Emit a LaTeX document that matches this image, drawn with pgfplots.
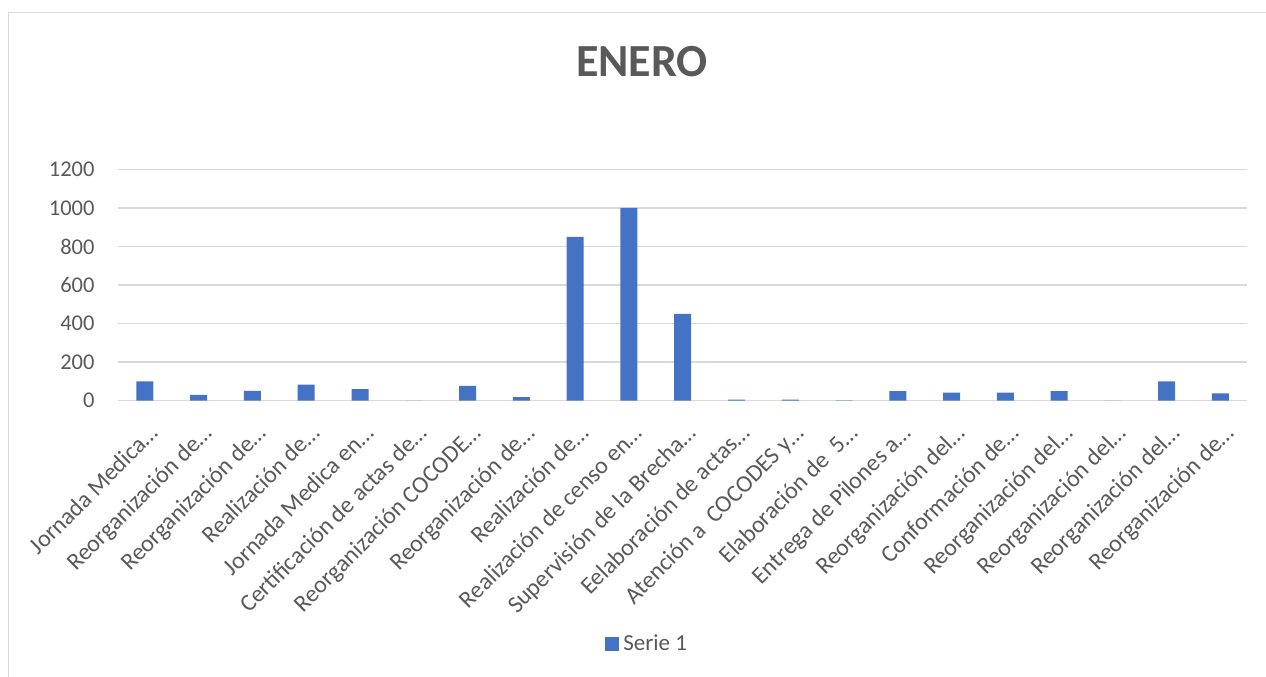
\documentclass[border=0pt]{standalone}
\usepackage{pgfplots}
\pgfplotsset{compat=1.18}
\usepackage{fontspec}
\setmainfont{Carlito}
\definecolor{txtc}{HTML}{595959}
\definecolor{gridc}{HTML}{D9D9D9}
\definecolor{barc}{HTML}{4472C4}
\begin{document}
\begin{tikzpicture}[x=1pt,y=1pt]
\path[use as bounding box] (0,0) rectangle (1266,677);
\draw[gridc,line width=1.5pt] (8.5,0) -- (8.5,664.5) -- (1266,664.5);
\node[font=\bfseries\fontsize{46}{50}\selectfont,text=txtc] at (642,615) {ENERO};
\begin{axis}[
  at={(118pt,276.3pt)}, anchor=south west,
  scale only axis, width=1129.4pt, height=231.4pt,
  xmin=-0.5, xmax=20.5, ymin=0, ymax=1200,
  ytick={0,200,...,1200},
  xtick={0,...,20},
  xticklabels={Jornada Medica…,Reorganización de…,Reorganización de…,Realización de…,Jornada Medica en…,Certificación de actas de…,Reorganización COCODE…,Reorganización de…,Realización de…,Realización de censo en…,Supervisión de la Brecha…,Eelaboración de actas…,Atención a\ \ COCODES y…,Elaboración de\ \ 5…,Entrega de Pilones a…,Reorganización del…,Conformación de…,Reorganización del…,Reorganización del…,Reorganización del…,Reorganización de…},
  ymajorgrids, xmajorgrids=false, grid style={draw=gridc,line width=1.3pt},
  axis line style={draw=none},
  major tick length=0pt,
  yticklabel style={font=\fontsize{22.5}{26}\selectfont,text=txtc,xshift=-20pt},
  /pgf/number format/assume math mode=true,
  /pgf/number format/1000 sep={},
  xticklabel style={font=\fontsize{24}{28}\selectfont,text=txtc,xshift=3pt,yshift=-17pt,rotate=45,anchor=north east},
  legend style={at={(0.4686,-1.05)},anchor=center,draw=none,font=\fontsize{23}{26}\selectfont,text=txtc,fill=none},
  legend image code/.code={\fill[barc] (0pt,-7pt) rectangle (14pt,7pt);},
]
\addplot[ybar, bar width=17pt, fill=barc, draw=none] coordinates {
(0,100) (1,30) (2,51) (3,84) (4,60) (5,0) (6,77) (7,19) (8,850) (9,1000) (10,450)
(11,6) (12,6) (13,2) (14,50) (15,42) (16,42) (17,50) (18,0) (19,100) (20,38)};
\addlegendentry{\hspace{2pt}Serie 1}
\end{axis}
\end{tikzpicture}
\end{document}
